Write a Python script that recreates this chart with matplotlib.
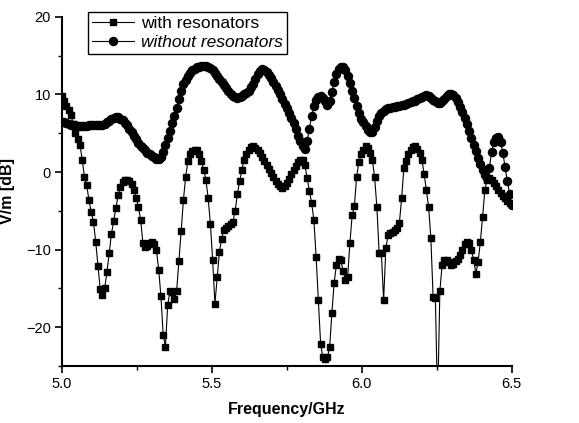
import numpy as np
import matplotlib.pyplot as plt
from matplotlib.ticker import MultipleLocator

plt.rcParams['font.family'] = ['Liberation Sans', 'DejaVu Sans']

# frequency grid, 201 samples from 5.0 to 6.5 GHz
freq = np.linspace(5.0, 6.5, 201)

with_res = [
    9.8, 9.2, 8.5, 8.0, 7.4, 6.2, 5.0, 4.2, 3.5, 1.6,
    -0.6, -1.7, -3.6, -5.2, -6.4, -9.0, -12.1, -15.1, -15.8, -15.0,
    -12.9, -10.5, -8.0, -6.3, -4.6, -3.0, -1.9, -1.3, -1.0, -1.0,
    -1.2, -1.6, -2.3, -3.3, -4.5, -6.2, -9.2, -9.7, -9.6, -9.1,
    -9.0, -9.3, -10.1, -12.6, -16.0, -21.0, -22.5, -17.2, -15.4, -15.5,
    -16.4, -15.3, -11.5, -7.6, -3.6, -0.6, 1.4, 2.3, 2.7, 2.9,
    2.8, 2.3, 1.4, 0.3, -1.0, -3.4, -6.7, -11.4, -17.0, -13.6,
    -10.3, -8.6, -7.5, -7.2, -7.0, -6.7, -6.4, -5.0, -2.8, -1.2,
    0.3, 1.6, 2.3, 2.8, 3.2, 3.3, 3.1, 2.8, 2.4, 1.9,
    1.4, 0.9, 0.4, -0.1, -0.6, -1.1, -1.5, -1.8, -2.0, -1.8,
    -1.4, -0.9, -0.3, 0.3, 0.8, 1.3, 1.6, 1.5, 0.9, -0.8,
    -2.4, -4.0, -6.2, -11.0, -16.5, -22.2, -23.9, -24.1, -23.9, -22.6,
    -18.2, -14.3, -12.0, -11.2, -11.4, -12.8, -13.9, -13.6, -9.2, -5.6,
    -4.4, -0.6, 1.3, 2.3, 2.9, 3.3, 3.1, 2.5, 1.6, -0.7,
    -4.5, -10.4, -10.5, -16.5, -9.8, -8.1, -7.8, -7.7, -7.5, -7.2,
    -6.6, -3.4, 0.5, 1.4, 2.3, 2.9, 3.2, 3.3, 3.0, 2.5,
    1.6, -0.2, -2.3, -4.5, -8.5, -16.1, -16.2, -30.0, -15.4, -12.0,
    -11.3, -11.3, -11.6, -12.0, -11.8, -11.5, -11.2, -10.7, -10.0, -9.3,
    -9.0, -9.2, -10.0, -11.3, -13.1, -11.6, -9.0, -5.8, -2.3, -1.0,
    -0.8, -1.0, -1.4, -1.8, -2.3, -2.7, -3.1, -3.4, -3.8, -4.0,
    -4.3,
]

without_res = [
    6.5, 6.4, 6.3, 6.2, 6.1, 6.0, 6.0, 5.9, 5.9, 5.9,
    5.9, 5.9, 6.0, 6.0, 6.0, 6.0, 6.0, 6.1, 6.1, 6.2,
    6.4, 6.6, 6.8, 7.0, 7.1, 7.1, 6.9, 6.7, 6.3, 6.0,
    5.6, 5.2, 4.7, 4.3, 3.8, 3.4, 3.1, 2.8, 2.5, 2.3,
    2.1, 1.9, 1.7, 1.7, 2.0, 2.6, 3.5, 4.4, 5.3, 6.3,
    7.2, 8.3, 9.4, 10.5, 11.3, 11.9, 12.4, 12.8, 13.1, 13.3,
    13.5, 13.6, 13.7, 13.7, 13.7, 13.6, 13.4, 13.1, 12.8, 12.4,
    12.0, 11.6, 11.2, 10.8, 10.4, 10.1, 9.8, 9.7, 9.6, 9.7,
    9.8, 10.0, 10.2, 10.5, 10.9, 11.4, 12.0, 12.6, 13.0, 13.3,
    13.2, 12.9, 12.5, 12.1, 11.6, 11.1, 10.6, 10.0, 9.4, 8.8,
    8.2, 7.6, 7.0, 6.3, 5.5, 4.7, 4.0, 3.4, 3.0, 4.0,
    5.6, 7.2, 8.5, 9.3, 9.7, 9.8, 9.6, 9.1, 8.6, 9.1,
    10.3, 11.6, 12.6, 13.3, 13.6, 13.5, 13.1, 12.4, 11.5, 10.5,
    9.5, 8.5, 7.6, 6.8, 6.5, 5.9, 5.4, 5.1, 5.2, 5.8,
    6.6, 7.2, 7.6, 7.9, 8.1, 8.2, 8.3, 8.4, 8.4, 8.5,
    8.5, 8.6, 8.7, 8.8, 8.9, 9.0, 9.1, 9.2, 9.4, 9.5,
    9.7, 9.8, 9.9, 9.8, 9.6, 9.3, 9.1, 8.9, 8.9, 9.1,
    9.4, 9.8, 10.0, 10.1, 9.9, 9.5, 9.0, 8.4, 7.7, 7.0,
    6.2, 5.3, 4.4, 3.5, 2.7, 1.8, 1.0, 0.2, -0.4, -0.8,
    0.5, 2.6, 3.9, 4.4, 4.5, 3.9, 2.5, 0.6, -1.2, -2.8,
    -4.2,
]


def main():
    fig = plt.figure(figsize=(5.79, 4.23), dpi=100)
    ax = fig.add_axes([0.107, 0.135, 0.777, 0.825])

    ax.plot(freq, with_res, color='black', lw=0.8, marker='s', ms=4.5,
            label='with resonators')
    ax.plot(freq, without_res, color='black', lw=0.8, marker='o', ms=5.8,
            label='without resonators')

    ax.set_xlim(5.0, 6.5)
    ax.set_ylim(-25, 20)
    ax.xaxis.set_major_locator(MultipleLocator(0.5))
    ax.xaxis.set_minor_locator(MultipleLocator(0.25))
    ax.yaxis.set_major_locator(MultipleLocator(10))
    ax.yaxis.set_minor_locator(MultipleLocator(5))
    ax.set_xticks([5.0, 5.5, 6.0, 6.5])
    ax.set_xticklabels(['5.0', '5.5', '6.0', '6.5'])

    for side in ('top', 'right'):
        ax.spines[side].set_visible(False)
    for side in ('left', 'bottom'):
        ax.spines[side].set_linewidth(1.5)
    ax.tick_params(which='major', direction='out', length=5, width=1.2,
                   labelsize=10.5, pad=3)
    ax.tick_params(which='minor', direction='out', length=3, width=1.0)

    ax.set_xlabel('Frequency/GHz', fontsize=11.5, fontweight='bold', labelpad=8)
    ax.set_ylabel('V/m [dB]', fontsize=11.5, fontweight='bold', labelpad=8)

    leg = ax.legend(loc='upper left', bbox_to_anchor=(0.152, 0.972),
                    bbox_transform=fig.transFigure, fontsize=12.5,
                    frameon=True, fancybox=False, framealpha=1,
                    edgecolor='black', handlelength=2.4, borderpad=0.25,
                    labelspacing=0.2, handletextpad=0.4, borderaxespad=0)
    leg.get_frame().set_linewidth(1.0)
    leg.get_texts()[1].set_style('italic')

    fig.savefig('out.png', dpi=100)
    plt.close('all')


if __name__ == '__main__':
    main()
